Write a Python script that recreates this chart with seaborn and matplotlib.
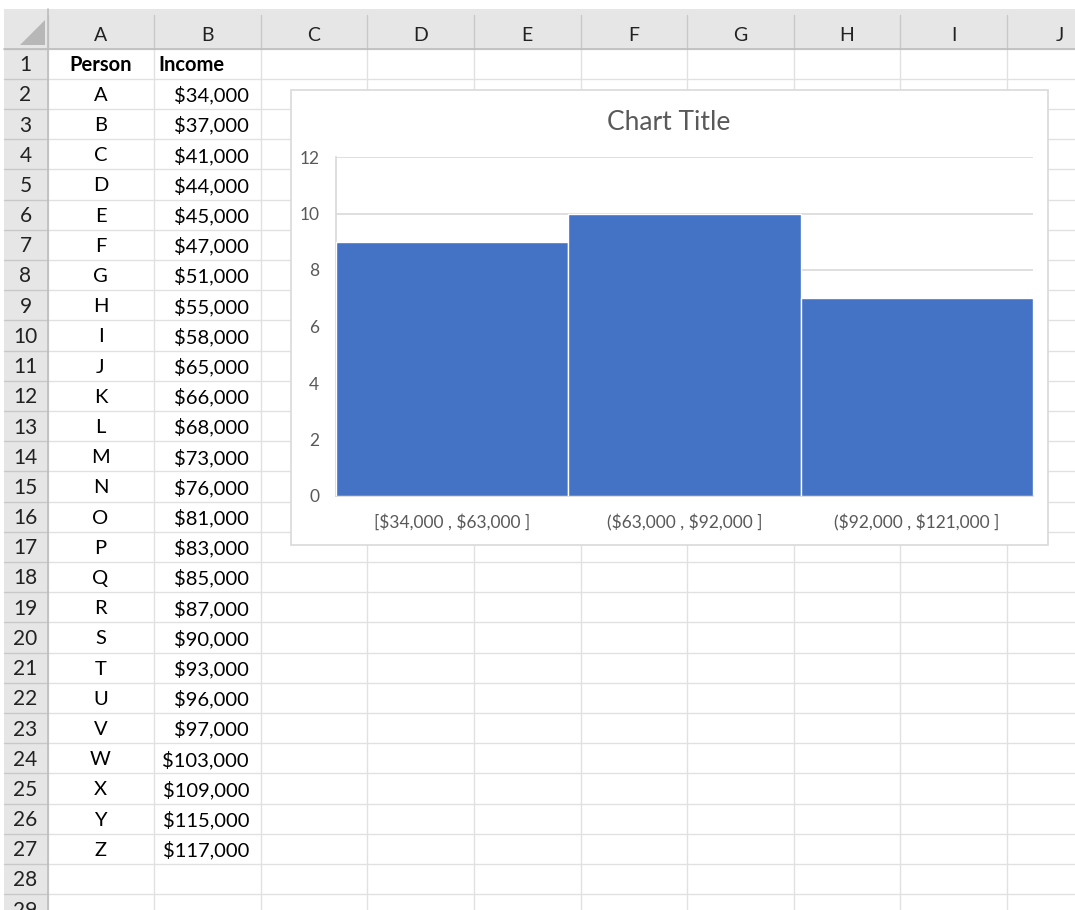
import matplotlib
matplotlib.use("Agg")
import matplotlib.pyplot as plt
import matplotlib.patches as mpatches
import seaborn as sns
import pandas as pd
import numpy as np

# ---------------- data ----------------
persons = list("ABCDEFGHIJKLMNOPQRSTUVWXYZ")
incomes = [34000, 37000, 41000, 44000, 45000, 47000, 51000, 55000, 58000,
           65000, 66000, 68000, 73000, 76000, 81000, 83000, 85000, 87000,
           90000, 93000, 96000, 97000, 103000, 109000, 115000, 117000]
col_letters = ["A", "B", "C", "D", "E", "F", "G", "H", "I", "J"]
header_labels = ["Person", "Income"]
bin_edges = [34000, 63000, 92000, 121000]
bin_labels = ["[$34,000 , $63,000 ]", "($63,000 , $92,000 ]", "($92,000 , $121,000 ]"]
y_ticks = [0, 2, 4, 6, 8, 10, 12]
chart_title = "Chart Title"

df = pd.DataFrame({"Person": persons, "Income": incomes})


def esc(s):
    return s.replace("$", r"\$")


# ---------------- style ----------------
sns.set_style("white")
plt.rcParams["font.family"] = ["Lato", "DejaVu Sans"]

W, H = 1075, 910
fig = plt.figure(figsize=(W / 100, H / 100), dpi=100)
fig.patch.set_facecolor("white")

bg = fig.add_axes([0, 0, 1, 1])
bg.set_xlim(0, W)
bg.set_ylim(H, 0)
bg.axis("off")

# grid geometry
col_x = [47.5 + 106.6 * i for i in range(11)]  # boundaries
hdr_top, hdr_bot = 9, 48.5
row_h = 30.2
row_top0 = hdr_bot
n_rows = 29
grid_c = "#e1e1e1"
hdr_fill = "#e6e6e6"
hdr_line = "#c8c8c8"
dy = 1.5

# header backgrounds
bg.add_patch(mpatches.Rectangle((4, hdr_top), W - 4, hdr_bot - hdr_top, color=hdr_fill, zorder=1, lw=0))
bg.add_patch(mpatches.Rectangle((4, hdr_top), col_x[0] - 4, H - hdr_top, color=hdr_fill, zorder=1, lw=0))
# corner triangle
bg.add_patch(mpatches.Polygon([[45, 20], [45, 45], [20, 45]], closed=True, color="#b7b7b7", zorder=2, lw=0))

# cell grid lines
for i, x in enumerate(col_x):
    bg.plot([x, x], [hdr_bot, H], color=grid_c, lw=1, zorder=1.5)
    bg.plot([x, x], [hdr_top + 6, hdr_bot], color=hdr_line, lw=1, zorder=2)
for r in range(n_rows + 1):
    y = row_top0 + r * row_h
    bg.plot([col_x[0], W], [y, y], color=grid_c, lw=1, zorder=1.5)
    bg.plot([4, col_x[0]], [y, y], color=hdr_line, lw=1, zorder=2)
bg.plot([4, W], [hdr_bot, hdr_bot], color="#bdbdbd", lw=1.2, zorder=2)
bg.plot([col_x[0], col_x[0]], [hdr_top, H], color="#bdbdbd", lw=1.2, zorder=2)

fs = 14.5
# column letters
for i, c in enumerate(col_letters):
    cx = (col_x[i] + col_x[i + 1]) / 2 if i + 1 < len(col_x) else col_x[i] + 53
    bg.text(cx, 34 + dy, c, ha="center", va="center", fontsize=fs - 0.5, color="#222222", zorder=3)
# row numbers
for r in range(n_rows):
    cy = row_top0 + (r + 0.5) * row_h + dy
    bg.text(25.5, cy, str(r + 1), ha="center", va="center", fontsize=fs + 0.5, color="#222222", zorder=3)

# header cells
y1 = row_top0 + 0.5 * row_h + dy
bg.text(100.5, y1, header_labels[0], ha="center", va="center", fontsize=fs, fontweight="bold", color="black", zorder=3)
bg.text(158, y1, header_labels[1], ha="left", va="center", fontsize=fs, fontweight="bold", color="black", zorder=3)
for k, (p, inc) in enumerate(zip(persons, incomes)):
    cy = row_top0 + (k + 1.5) * row_h + dy
    bg.text(100.5, cy, p, ha="center", va="center", fontsize=fs, color="black", zorder=3)
    bg.text(249, cy, esc(f"${inc:,}"), ha="right", va="center", fontsize=fs, color="black", zorder=3)

# chart box
bg.add_patch(mpatches.Rectangle((291, 90), 1048 - 291, 545 - 90, facecolor="white",
                                edgecolor="#d9d9d9", lw=1.2, zorder=5))
bg.text(669, 121 + dy, chart_title, ha="center", va="center", fontsize=19, color="#595959", zorder=6)

# ---------------- histogram ----------------
pl, pr, pt, pb = 336, 1033, 157, 496
ax = fig.add_axes([pl / W, 1 - pb / H, (pr - pl) / W, (pb - pt) / H], zorder=10)
ax.patch.set_alpha(0)
sns.histplot(data=df, x="Income", bins=bin_edges, stat="count", ax=ax,
             color="#4472C4", edgecolor="white", linewidth=1, alpha=1, zorder=3)
ax.set_xlim(bin_edges[0], bin_edges[-1])
ax.set_ylim(0, 12)
ax.set_yticks(y_ticks)
ax.set_yticklabels([str(t) for t in y_ticks])
centers = [(bin_edges[i] + bin_edges[i + 1]) / 2 for i in range(len(bin_labels))]
ax.set_xticks(centers)
ax.set_xticklabels([esc(b) for b in bin_labels])
ax.tick_params(axis="both", length=0, labelsize=12.5, labelcolor="#595959")
ax.tick_params(axis="x", pad=13)
ax.tick_params(axis="y", pad=12)
ax.yaxis.grid(True, color="#d9d9d9", lw=1.2, zorder=0)
ax.set_axisbelow(True)
ax.set_xlabel("")
ax.set_ylabel("")
for s in ["top", "right"]:
    ax.spines[s].set_visible(False)
for s in ["left", "bottom"]:
    ax.spines[s].set_color("#d9d9d9")
    ax.spines[s].set_linewidth(1.2)

fig.savefig("out.png", dpi=100)
